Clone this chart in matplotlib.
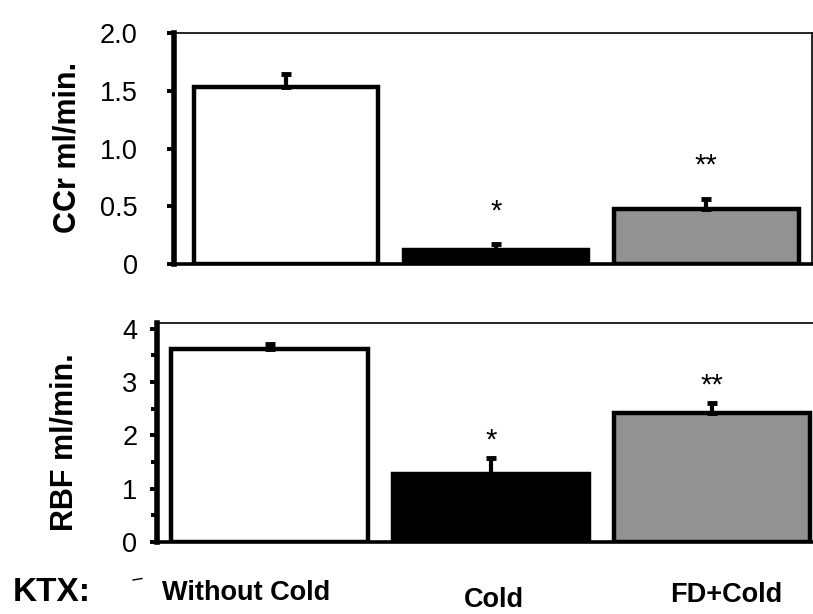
import matplotlib
matplotlib.use('Agg')
import matplotlib.pyplot as plt
from matplotlib.lines import Line2D
import numpy as np

plt.rcParams['font.family'] = ['Liberation Sans', 'DejaVu Sans']

groups = ['Without Cold', 'Cold', 'FD+Cold']
bar_colors = ['white', 'black', '#929292']

ccr_values = [1.53, 0.12, 0.48]
ccr_err = [0.12, 0.05, 0.08]
ccr_marks = ['', '*', '**']

rbf_values = [3.63, 1.27, 2.42]
rbf_err = [0.08, 0.30, 0.18]
rbf_marks = ['', '*', '**']

W, H = 813, 614
fig = plt.figure(figsize=(W / 100, H / 100), dpi=100)
ax1 = fig.add_axes([0.214, 0.570, 0.785, 0.376])
ax2 = fig.add_axes([0.193, 0.117, 0.807, 0.357])

x = np.arange(len(groups))


def draw_panel(ax, vals, errs, marks, ylim, star_off, width, pad):
    ax.bar(x, vals, width=width, color=bar_colors, edgecolor='black',
           linewidth=3.2, zorder=2)
    ax.errorbar(x, vals, yerr=[np.zeros(len(vals)), errs], fmt='none',
                ecolor='black', elinewidth=3, capsize=3.5, capthick=3.5, zorder=3)
    for xi, v, e, m in zip(x, vals, errs, marks):
        if m:
            ax.annotate(m, (xi, v + e), xytext=(0, star_off),
                        textcoords='offset points', ha='center', va='center',
                        fontsize=21, color='black')
    ax.set_ylim(*ylim)
    ax.spines['left'].set_linewidth(4)
    ax.spines['bottom'].set_linewidth(2.6)
    ax.spines['top'].set_linewidth(1.2)
    ax.spines['right'].set_linewidth(1.2)
    ax.tick_params(axis='y', direction='out', length=5, width=2.8,
                   labelsize=19.5, pad=pad)
    ax.tick_params(axis='x', length=0, labelbottom=False)
    ax.set_xticks(x)


draw_panel(ax1, ccr_values, ccr_err, ccr_marks, (0, 2.0), 24, 0.88, 21)
ax1.set_xlim(-0.533, 2.505)
ax1.set_yticks([0, 0.5, 1.0, 1.5, 2.0])
ax1.set_yticklabels(['0', '0.5', '1.0', '1.5', '2.0'])

draw_panel(ax2, rbf_values, rbf_err, rbf_marks, (0, 4.11), 13, 0.89, 9)
ax2.set_xlim(-0.511, 2.457)
ax2.spines['right'].set_visible(False)
ax2.set_yticks([0, 1, 2, 3, 4])
ax2.set_yticks(np.arange(0.5, 4.0, 1.0), minor=True)
ax2.tick_params(axis='y', which='minor', direction='out', length=4, width=2.8)

fig.text(67 / W, 1 - 147 / H, 'CCr ml/min.', rotation=90, fontsize=22,
         fontweight='bold', ha='center', va='center')
fig.text(64 / W, 1 - 442 / H, 'RBF ml/min.', rotation=90, fontsize=22,
         fontweight='bold', ha='center', va='center')

# group labels sit a little off the bar centres in the original
label_pos = [(246, 600), (494, 607), (726, 602)]
for (px, py), g in zip(label_pos, groups):
    fig.text(px / W, 1 - py / H, g, ha='center', va='baseline',
             fontsize=19.5, fontweight='bold')

fig.text(13 / W, 1 - 601 / H, 'KTX:', fontsize=24, fontweight='bold',
         ha='left', va='baseline')
fig.add_artist(Line2D([133 / W, 142 / W], [1 - 580 / H, 1 - 578.5 / H],
                      color='black', linewidth=1))

fig.savefig('out.png', dpi=100)
